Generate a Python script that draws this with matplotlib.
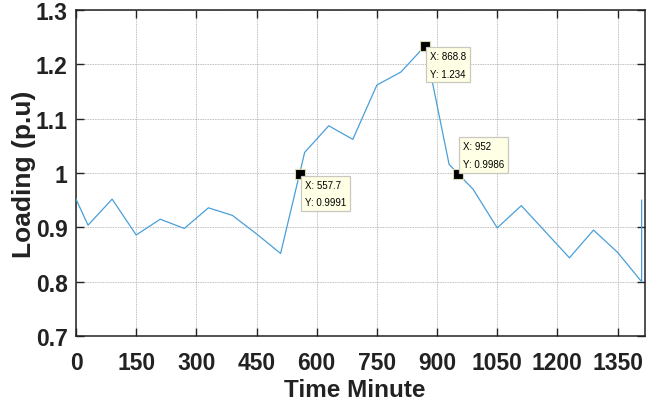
import matplotlib
matplotlib.use("Agg")
import matplotlib.pyplot as plt
from matplotlib.ticker import FixedLocator

# Daily loading profile (per unit) sampled over the day, minutes
time_min = [0, 30, 90, 150, 210, 270, 330, 390, 450, 510, 570, 630, 690,
            750, 810, 870, 930, 990, 1050, 1110, 1170, 1230, 1290, 1350,
            1410, 1410]
loading_pu = [0.952, 0.904, 0.952, 0.886, 0.915, 0.898, 0.936, 0.922, 0.888,
              0.852, 1.038, 1.087, 1.062, 1.162, 1.186, 1.234, 1.016, 0.970,
              0.899, 0.940, 0.892, 0.844, 0.895, 0.854, 0.800, 0.950]

# Data tips placed on the curve
tip_x = [557.7, 868.8, 952]
tip_y = [0.9991, 1.234, 0.9986]
tip_labels = ["X: 557.7\nY: 0.9991", "X: 868.8\nY: 1.234", "X: 952\nY: 0.9986"]

x_ticks = [0, 150, 300, 450, 600, 750, 900, 1050, 1200, 1350]
y_ticks = [0.7, 0.8, 0.9, 1.0, 1.1, 1.2, 1.3]
y_tick_labels = ["0.7", "0.8", "0.9", "1", "1.1", "1.2", "1.3"]

plt.rcParams["font.family"] = ["Liberation Sans", "DejaVu Sans"]
ink = "#222222"

fig = plt.figure(figsize=(6.65, 4.10), dpi=100)
ax = fig.add_axes([0.1143, 0.178, 0.856, 0.795])

ax.plot(time_min, loading_pu, color="#4a9fd8", lw=0.9, zorder=3)

ax.set_xlim(0, 1419)
ax.set_ylim(0.7, 1.3)
ax.xaxis.set_major_locator(FixedLocator(x_ticks))
ax.set_xticklabels([str(v) for v in x_ticks])
ax.yaxis.set_major_locator(FixedLocator(y_ticks))
ax.set_yticklabels(y_tick_labels)

ax.grid(True, linestyle=(0, (1, 1)), color="#a8a8a8", lw=0.6)
ax.set_axisbelow(True)
ax.tick_params(direction="in", length=6, width=1.0, top=True, right=True,
               labelsize=16.5, colors=ink)
ax.tick_params(axis="x", pad=10.5)
ax.tick_params(axis="y", pad=6)
for lab in ax.get_xticklabels() + ax.get_yticklabels():
    lab.set_fontweight("bold")
for sp in ax.spines.values():
    sp.set_linewidth(1.1)
    sp.set_color(ink)

ax.set_xlabel("Time Minute", fontsize=17.5, fontweight="bold", color=ink)
ax.xaxis.set_label_coords(0.49, -0.128)
ax.set_ylabel("Loading (p.u)", fontsize=19, fontweight="bold", color=ink)
ax.yaxis.set_label_coords(-0.07, 0.5)

offsets = [(5, -6), (5, -5), (5, 5)]
valigns = ["top", "top", "bottom"]
for x, y, txt, off, va in zip(tip_x, tip_y, tip_labels, offsets, valigns):
    ax.plot([x], [y], marker="s", ms=7, mfc="black", mec="#d8d8b0",
            mew=0.8, zorder=5)
    ax.annotate(txt, xy=(x, y), xytext=off, textcoords="offset pixels",
                ha="left", va=va, fontsize=7, linespacing=1.95,
                color="black", zorder=6,
                bbox=dict(boxstyle="square,pad=0.4", fc="#ffffe6",
                          ec="#c8c8c0", lw=0.9))

fig.savefig("out.png", dpi=100)
